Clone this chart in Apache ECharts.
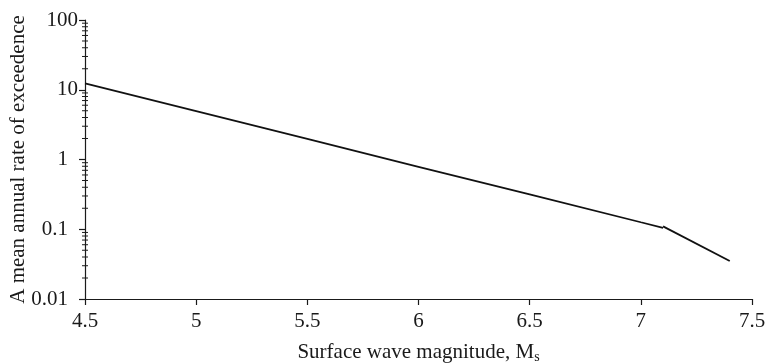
<!DOCTYPE html>
<html><head><meta charset="utf-8">
<script src="https://cdn.jsdelivr.net/npm/echarts@6/dist/echarts.min.js"></script>
<style>html,body{margin:0;padding:0;background:#fff}#c{width:766px;height:364px}</style>
</head><body><div id="c"></div>
<script>
var magnitudes1 = [4.5, 5.0, 5.5, 6.0, 6.5, 7.0, 7.1];
var rates1 = [12.3, 4.92, 1.97, 0.787, 0.315, 0.126, 0.105];
var magnitudes2 = [7.1, 7.4];
var rates2 = [0.11, 0.035];
var xTicks = [4.5, 5, 5.5, 6, 6.5, 7, 7.5];
var yTicks = [0.01, 0.1, 1, 10, 100];
var minorMultipliers = [2, 3, 4, 5, 6, 7, 8, 9];

var minorTicks = [];
for (var d = 0; d < yTicks.length - 1; d++) {
  for (var m = 0; m < minorMultipliers.length; m++) {
    minorTicks.push([xTicks[0], +(yTicks[d] * minorMultipliers[m]).toPrecision(3)]);
  }
}
var font = 'Liberation Serif';
var ink = '#1a1a1a';
var chart = echarts.init(document.getElementById('c'), null, {renderer: 'canvas'});
chart.setOption({
  animation: false,
  grid: {left: 85, right: 14, top: 20, bottom: 65, containLabel: false, outerBoundsMode: 'none'},
  xAxis: {
    type: 'value', min: 4.5, max: 7.5, interval: 0.5,
    splitLine: {show: false},
    axisLine: {lineStyle: {color: ink, width: 1.2}},
    axisTick: {length: 6, lineStyle: {color: ink, width: 1.2}},
    axisLabel: {color: ink, fontFamily: font, fontSize: 21, margin: 12},
    name: '{a|Surface wave magnitude, M}{s|s}',
    nameLocation: 'middle', nameGap: 41, nameMoveOverlap: false,
    nameTextStyle: {
      rich: {
        a: {fontFamily: font, fontSize: 21, color: ink},
        s: {fontFamily: font, fontSize: 14, color: ink, verticalAlign: 'bottom', padding: [10, 0, 0, 0]}
      }
    }
  },
  yAxis: {
    type: 'log', logBase: 10, min: 0.01, max: 100,
    splitLine: {show: false},
    axisLine: {show: true, lineStyle: {color: ink, width: 1.2}},
    axisTick: {show: true, length: 6, lineStyle: {color: ink, width: 1.2}},
    axisLabel: {color: ink, fontFamily: font, fontSize: 21, margin: 7,
      formatter: function (v) {
        var s = String(+v.toPrecision(3));
        return v < 5 ? '{p|' + s + '}' : s;
      },
      rich: {p: {fontFamily: font, fontSize: 21, color: ink, padding: [0, 10, 0, 0]}}
    },
    name: 'A mean annual rate of exceedence',
    nameLocation: 'middle', nameGap: 56, nameMoveOverlap: false,
    nameTextStyle: {fontFamily: font, fontSize: 21, color: ink}
  },
  series: [
    {type: 'line', data: magnitudes1.map(function (x, i) { return [x, rates1[i]]; }),
     showSymbol: false, symbol: 'none', lineStyle: {color: '#111', width: 1.8}},
    {type: 'line', data: magnitudes2.map(function (x, i) { return [x, rates2[i]]; }),
     showSymbol: false, symbol: 'none', lineStyle: {color: '#111', width: 1.8}},
    {type: 'custom', data: minorTicks, silent: true,
     renderItem: function (params, api) {
       var p = api.coord([api.value(0), api.value(1)]);
       return {type: 'line', shape: {x1: p[0] - 3, y1: p[1], x2: p[0] + 3, y2: p[1]},
               style: {stroke: ink, lineWidth: 1}};
     }}
  ]
});
</script></body></html>
